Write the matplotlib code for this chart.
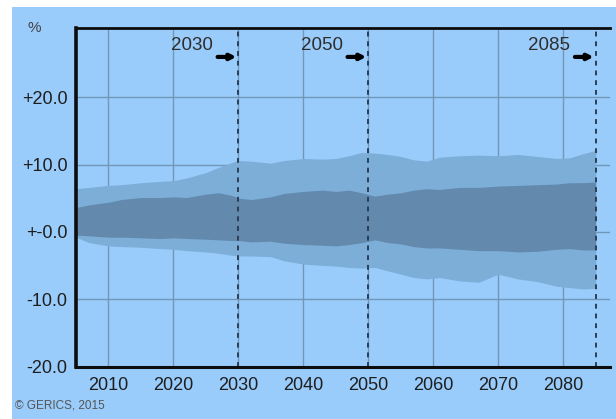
import matplotlib
matplotlib.use("Agg")
import matplotlib.pyplot as plt
from matplotlib.patches import Rectangle

years = [2005, 2007, 2010, 2012, 2015, 2018, 2020, 2022, 2025, 2027, 2029, 2030,
         2032, 2035, 2037, 2040, 2043, 2045, 2047, 2049, 2051, 2053, 2055, 2057,
         2059, 2061, 2064, 2067, 2070, 2073, 2076, 2079, 2081, 2083, 2085]
outer_hi = [6.4, 6.6, 6.9, 7.0, 7.3, 7.5, 7.6, 8.0, 8.8, 9.6, 10.3, 10.6,
            10.5, 10.2, 10.6, 10.9, 10.8, 10.9, 11.3, 11.8, 11.7, 11.5, 11.2, 10.7,
            10.5, 11.1, 11.3, 11.4, 11.3, 11.5, 11.2, 10.9, 11.0, 11.6, 12.1]
inner_hi = [3.6, 4.0, 4.4, 4.8, 5.1, 5.1, 5.2, 5.1, 5.6, 5.8, 5.4, 5.0,
            4.8, 5.2, 5.7, 6.0, 6.2, 6.0, 6.2, 5.8, 5.3, 5.6, 5.8, 6.2,
            6.4, 6.3, 6.6, 6.6, 6.8, 6.9, 7.0, 7.1, 7.3, 7.3, 7.4]
inner_lo = [-0.5, -0.6, -0.8, -0.8, -0.9, -1.0, -0.9, -1.0, -1.1, -1.2, -1.3, -1.3,
            -1.5, -1.4, -1.7, -1.9, -2.0, -2.1, -1.9, -1.6, -1.2, -1.6, -1.8, -2.2,
            -2.4, -2.4, -2.6, -2.8, -2.8, -3.0, -2.9, -2.6, -2.5, -2.7, -2.7]
outer_lo = [-0.8, -1.6, -2.1, -2.2, -2.3, -2.5, -2.6, -2.8, -3.0, -3.2, -3.5, -3.6,
            -3.6, -3.7, -4.3, -4.8, -5.0, -5.1, -5.3, -5.4, -5.3, -5.8, -6.3, -6.8,
            -7.0, -6.8, -7.3, -7.5, -6.3, -7.0, -7.4, -8.1, -8.3, -8.5, -8.4]

marker_years = [2030, 2050, 2085]
marker_labels = ["2030", "2050", "2085"]
yticks = [-20, -10, 0, 10, 20]
ytick_labels = ["-20.0", "-10.0", "+-0.0", "+10.0", "+20.0"]
xticks = [2010, 2020, 2030, 2040, 2050, 2060, 2070, 2080]

BG = "#99ccfb"
OUTER = "#7caed8"
INNER = "#6389ad"
GRID = "#7196b8"
TXT = "#1e1e1e"

plt.rcParams['font.family'] = ['Liberation Sans', 'DejaVu Sans']

W, H = 616, 419
fig = plt.figure(figsize=(W / 100, H / 100), dpi=100, facecolor=BG)
# white strips at top and left edge
fig.patches.append(Rectangle((0, 1 - 7 / H), 1, 7 / H, transform=fig.transFigure,
                             facecolor="white", edgecolor="none", zorder=0))
fig.patches.append(Rectangle((0, 0), 12 / W, 1, transform=fig.transFigure,
                             facecolor="white", edgecolor="none", zorder=0))

ax = fig.add_axes([76 / W, 1 - 367 / H, (610 - 76) / W, (367 - 28) / H])
ax.set_facecolor(BG)
ax.set_xlim(2005, 2087.2)
ax.set_ylim(-20.1, 30.3)

ax.fill_between(years, outer_lo, outer_hi, color=OUTER, lw=0, zorder=2)
ax.fill_between(years, inner_lo, inner_hi, color=INNER, lw=0, zorder=3)

for x in xticks:
    ax.axvline(x, color=GRID, lw=1, zorder=1)
for y in [-10, 0, 10, 20]:
    ax.axhline(y, color=GRID, lw=1, zorder=1)

for yr, lab in zip(marker_years, marker_labels):
    ax.axvline(yr, color="#2b3f55", lw=1.4, ls=(0, (2.5, 2.5)), zorder=5)
    ax.text(yr - 3.9, 27.7, lab, ha="right", va="center", fontsize=13.5, color="#2e2e2e", zorder=6)
    ax.annotate("", xy=(yr - 0.3, 26.0), xytext=(yr - 3.2, 26.0),
                arrowprops=dict(arrowstyle="-|>", lw=3, color="black",
                                mutation_scale=8, shrinkA=0, shrinkB=0), zorder=6)

ax.set_xticks(xticks)
ax.set_xticklabels([str(x) for x in xticks], fontsize=13, color=TXT)
ax.set_yticks(yticks)
ax.set_yticklabels(ytick_labels, fontsize=13, color=TXT)
ax.tick_params(length=0)
ax.tick_params(axis="x", pad=7)
ax.tick_params(axis="y", pad=6)

for s in ["right"]:
    ax.spines[s].set_visible(False)
ax.spines["left"].set_linewidth(2.6)
ax.spines["top"].set_linewidth(2.0)
ax.spines["bottom"].set_linewidth(2.2)
for s in ["left", "top", "bottom"]:
    ax.spines[s].set_color("#0d0d0d")
    ax.spines[s].set_zorder(7)

fig.text(34 / W, 1 - 28 / H, "%", ha="center", va="center", fontsize=11, color="#444444")
fig.text(15 / W, 1 - 405 / H, "© GERICS, 2015", ha="left", va="center", fontsize=8.5, color="#555555")

fig.savefig("out.png", dpi=100, facecolor=BG)
